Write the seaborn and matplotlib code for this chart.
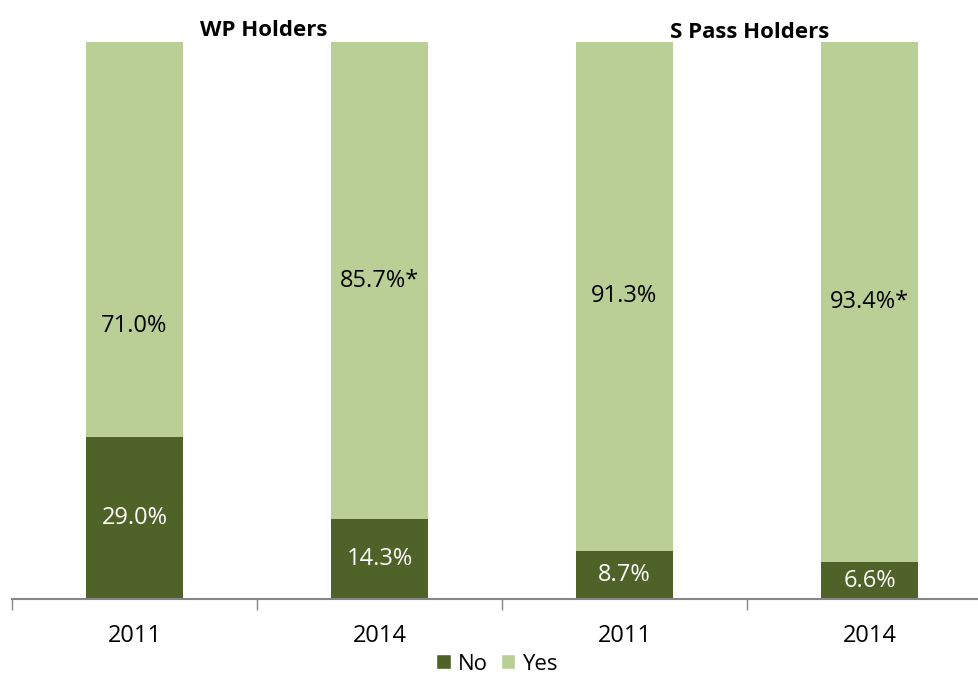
import matplotlib
matplotlib.use("Agg")
import matplotlib.pyplot as plt
import seaborn as sns
import pandas as pd
import numpy as np
from matplotlib.patches import Patch

groups = ["WP Holders", "S Pass Holders"]
years = ["2011", "2014", "2011", "2014"]
keys = ["WP 2011", "WP 2014", "SP 2011", "SP 2014"]
no_vals = [29.0, 14.3, 8.7, 6.6]
yes_vals = [71.0, 85.7, 91.3, 93.4]
yes_labels = ["71.0%", "85.7%*", "91.3%", "93.4%*"]
no_labels = ["29.0%", "14.3%", "8.7%", "6.6%"]

dark = "#4F6228"
light = "#BACF96"

sns.set_theme(style="white")
plt.rcParams['font.family'] = ['Open Sans', 'DejaVu Sans']

df = pd.DataFrame({"key": keys, "No": no_vals, "Yes": yes_vals})
df["Total"] = df["No"] + df["Yes"]

fig = plt.figure(figsize=(9.79, 6.79), dpi=100)
ax = fig.add_axes([12/979, 80/679, (979-12)/979, (599-42)/679])

sns.barplot(data=df, x="key", y="Total", order=keys, color=light, width=0.396,
            saturation=1, ax=ax, edgecolor="none", linewidth=0)
sns.barplot(data=df, x="key", y="No", order=keys, color=dark, width=0.396,
            saturation=1, ax=ax, edgecolor="none", linewidth=0)

ax.set_xlabel("")
ax.set_ylabel("")
ax.set_yticks([])

# label positions (layout)
yes_label_y = [49.0, None, None, None]
for i in range(4):
    ny = no_vals[i] / 2
    ax.text(i, ny, no_labels[i], ha="center", va="center", color="white", fontsize=17)
    yy = yes_label_y[i] if yes_label_y[i] is not None else no_vals[i] + yes_vals[i] / 2
    ax.text(i, yy, yes_labels[i], ha="center", va="center", color="black", fontsize=17)

# ticks at boundaries, labels at centers
ax.set_xticks([-0.5, 0.5, 1.5, 2.5])
ax.set_xticklabels([])
ax.set_xticks(range(4), minor=True)
ax.set_xticklabels(years, minor=True, fontsize=17, color="black")
ax.tick_params(axis="x", which="major", direction="out", length=8, color="#868686", width=1, bottom=True)
ax.tick_params(axis="x", which="minor", length=0, pad=18)
ax.set_xlim(-0.5, 3.447)
ax.set_ylim(0, 100)

for s in ["top", "right", "left"]:
    ax.spines[s].set_visible(False)
ax.spines["bottom"].set_color("#868686")
ax.spines["bottom"].set_linewidth(1.5)

fig.text(264/979, 1 - 30/679, groups[0], ha="center", va="center", fontsize=16,
         fontweight="bold", color="black", family=['Open Sans', 'DejaVu Sans'])
fig.text(750/979, 1 - 33/679, groups[1], ha="center", va="center", fontsize=16,
         fontweight="bold", color="black", family=['Open Sans', 'DejaVu Sans'])

handles = [Patch(facecolor=dark, label="No"), Patch(facecolor=light, label="Yes")]
leg = fig.legend(handles=handles, loc="center", bbox_to_anchor=(497/979, 1 - 664/679), ncol=2,
                 frameon=False, fontsize=16, handlelength=0.65, handleheight=0.65,
                 handletextpad=0.3, columnspacing=0.6, borderpad=0.1)
for t in leg.get_texts():
    t.set_color("black")

fig.savefig("out.png", dpi=100)
